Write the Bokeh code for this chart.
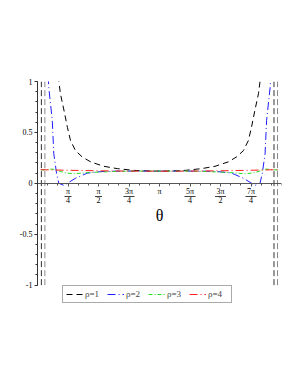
import numpy as np
from bokeh.plotting import figure
from bokeh.models import Range1d, FixedTicker, Label, Legend, LegendItem, ColumnDataSource
from bokeh.embed import file_html
from bokeh.resources import INLINE
from bokeh.core.properties import value

PI = np.pi
# ---- data ----
black_theta = [0.50, 0.55, 0.59, 0.68, 0.77, 0.85, 0.98, 1.15, 1.37, 1.71, 2.06, 2.48, 2.92, 3.14,
               3.36, 3.80, 4.22, 4.57, 4.91, 5.13, 5.30, 5.43, 5.51, 5.60, 5.69, 5.73, 5.78]
black_y = [1.25, 1.0, 0.88, 0.72, 0.55, 0.42, 0.32, 0.26, 0.21, 0.167, 0.144, 0.127, 0.121, 0.12,
           0.121, 0.127, 0.144, 0.167, 0.21, 0.26, 0.32, 0.42, 0.55, 0.72, 0.88, 1.0, 1.25]

blue_theta = [0.26, 0.29, 0.38, 0.42, 0.49, 0.55, 0.68, 0.98, 1.28, 1.63, 2.0, 2.5, 3.14,
              3.78, 4.28, 4.65, 5.00, 5.30, 5.60, 5.73, 5.79, 5.86, 5.90, 5.99, 6.02]
blue_y = [1.2, 0.94, 0.62, 0.29, 0.10, 0.0, -0.02, 0.05, 0.10, 0.115, 0.119, 0.12, 0.12,
          0.12, 0.119, 0.115, 0.10, 0.05, -0.02, 0.0, 0.10, 0.29, 0.62, 0.94, 1.2]

green_theta = [0.10, 0.25, 0.38, 0.46, 0.60, 0.75, 0.94, 1.15, 1.30, 1.55, 2.0, 2.5, 3.14,
               3.78, 4.28, 4.73, 4.98, 5.13, 5.34, 5.53, 5.68, 5.82, 5.90, 6.03, 6.18]
green_y = [0.13, 0.135, 0.14, 0.134, 0.115, 0.10, 0.095, 0.10, 0.105, 0.11, 0.117, 0.12, 0.12,
           0.12, 0.117, 0.11, 0.105, 0.10, 0.095, 0.10, 0.115, 0.134, 0.14, 0.135, 0.13]

red_theta = [0.08, 0.8, 1.6, 2.4, 3.14, 3.88, 4.68, 5.48, 6.2]
red_y = [0.134, 0.128, 0.123, 0.12, 0.119, 0.12, 0.123, 0.128, 0.134]

asym_theta = [0.10, 0.19, 6.09, 6.18]
asym_color = ["#333333", "#888888", "#333333", "#888888"]

x_ticks = [PI / 4 * k for k in range(1, 8)]
x_num = ["π", "π", "3π", "π", "5π", "3π", "7π"]
x_den = ["4", "2", "4", "", "4", "2", "4"]
y_ticks = [-1, -0.5, 0, 0.5, 1]
y_labels = ["-1", "-0.5", "0", "0.5", "1"]
labels = ["ρ=1", "ρ=2", "ρ=3", "ρ=4"]

SERIF = "Liberation Serif"

p = figure(width=290, height=330, x_range=Range1d(0, 2 * PI), y_range=Range1d(-1.2, 1),
           output_backend="svg", toolbar_location=None,
           min_border_left=37, min_border_right=9, min_border_top=81, min_border_bottom=25)
p.grid.visible = False
p.outline_line_color = None
p.background_fill_color = "white"

# x axis placed at y = 0
p.xaxis.fixed_location = 0
p.xaxis.ticker = FixedTicker(ticks=x_ticks, minor_ticks=[PI / 12 * k for k in range(0, 25)])
p.xaxis.major_label_overrides = {t: n for t, n in zip(x_ticks, x_num)}
p.xaxis.major_label_text_font = SERIF
p.xaxis.major_label_text_font_size = "8px"
p.xaxis.major_label_text_color = "black"
p.xaxis.major_label_standoff = 1
p.xaxis.axis_line_color = "#555555"
p.xaxis.major_tick_line_color = "#555555"
p.xaxis.minor_tick_line_color = "#555555"
p.xaxis.major_tick_in = 0
p.xaxis.major_tick_out = 3
p.xaxis.minor_tick_in = 0
p.xaxis.minor_tick_out = 2

p.yaxis.bounds = (y_ticks[0], y_ticks[-1])
p.yaxis.ticker = FixedTicker(ticks=y_ticks, minor_ticks=[round(-1 + 0.1 * k, 2) for k in range(21)])
p.yaxis.major_label_overrides = {t: l for t, l in zip(y_ticks, y_labels)}
p.yaxis.major_label_text_font = SERIF
p.yaxis.major_label_text_font_size = "8px"
p.yaxis.major_label_text_color = "black"
p.yaxis.major_label_standoff = 2
p.yaxis.axis_line_color = "#333333"
p.yaxis.major_tick_line_color = "#333333"
p.yaxis.minor_tick_line_color = "#333333"
p.yaxis.major_tick_in = 0
p.yaxis.major_tick_out = 3
p.yaxis.minor_tick_in = 0
p.yaxis.minor_tick_out = 2

# vertical dashed lines near the ends
p.segment(x0=asym_theta, x1=asym_theta, y0=y_ticks[0], y1=y_ticks[-1],
          line_color=asym_color, line_dash="6 3", line_width=1)

r1 = p.line(black_theta, black_y, line_color="black", line_dash="6 4", line_width=1)
r2 = p.line(blue_theta, blue_y, line_color="#1f1fff", line_dash="8 3 1 3", line_width=1)
r3 = p.line(green_theta, green_y, line_color="#22dd22", line_dash="4 2 1 2", line_width=1)
r4 = p.line(red_theta, red_y, line_color="#ff1f1f", line_dash="8 3 1 3", line_width=1)

# denominators and fraction bars of the tick labels
fx = [t for t, d in zip(x_ticks, x_den) if d]
fden = [d for d in x_den if d]
fw = [len(n) * 4 + 3 for n, d in zip(x_num, x_den) if d]
src = ColumnDataSource(dict(x=fx, den=fden, y=[0] * len(fx), w=fw))
p.text(x="x", y="y", text="den", source=src, y_offset=17, text_align="center", text_baseline="middle",
       text_font=value(SERIF), text_font_size="8px", text_color="black")
p.rect(x="x", y=-13 / 102, width="w", height=0.8, width_units="screen", height_units="screen",
       source=src, fill_color="black", line_color=None)

p.add_layout(Label(x=0, y=0, x_offset=-21, text="y", text_font=SERIF, text_font_style="italic",
                   text_font_size="9px", text_align="center", text_baseline="middle", text_color="black"))
p.add_layout(Label(x=PI, y=0, y_offset=-32, text="θ", text_font=SERIF, text_color="black",
                   text_font_size="16px", text_align="center", text_baseline="middle"))

legend = Legend(items=[LegendItem(label=l, renderers=[r]) for l, r in zip(labels, [r1, r2, r3, r4])],
                orientation="horizontal", location=(25, 2), border_line_color="#555555",
                border_line_width=1, padding=3, spacing=2, glyph_width=17, glyph_height=10,
                label_text_font=SERIF, label_text_font_size="9px", label_standoff=2,
                label_height=10, margin=0, background_fill_alpha=1)
p.add_layout(legend)

open("out.html", "w").write(file_html(p, INLINE))
